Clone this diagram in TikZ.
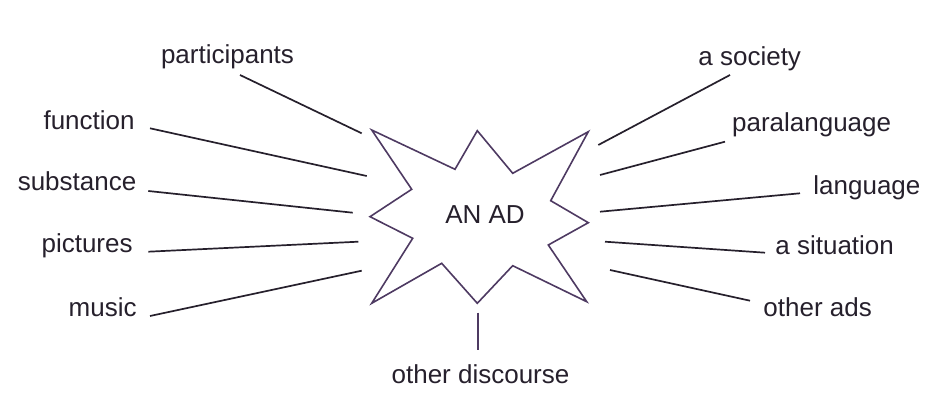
\documentclass[tikz,border=0pt]{standalone}
\usepackage{fontspec}
\setmainfont{Liberation Sans}
\usepackage{tikz}
\usetikzlibrary{calc}

\definecolor{inkcol}{RGB}{38,32,44}
\definecolor{starcol}{RGB}{78,58,98}

\tikzset{
  lbl/.style={inner sep=0pt, text=inkcol, font=\fontsize{13}{15}\selectfont},
  spoke/.style={draw=inkcol, line width=0.85pt},
  starline/.style={draw=starcol, line width=0.8pt, line join=miter}
}

\begin{document}
\begin{tikzpicture}[x=0.5pt,y=-0.5pt]
	\useasboundingbox (0,0) rectangle (930,405);
	
	% the star
	\draw[starline] (371.7,130) -- (455,169.3) -- (477.3,130.7) -- (512.7,173.3)
	  -- (588.3,131.7) -- (550.7,200.7) -- (588.3,222.7) -- (548.3,245)
	  -- (586.7,301.7) -- (512.7,265.7) -- (477.3,303.3) -- (441.7,263.3)
	  -- (371.7,303.3) -- (412.7,238.3) -- (370,216.7) -- (411.7,189.3) -- cycle;
	\node[lbl, anchor=base] (ad) at (485,224) {AN AD};
	
	% left labels
	\node[lbl, anchor=base] (participants) at (227.5,63.3) {participants};
	\node[lbl, anchor=base east] (function) at (135,129.3) {function};
	\node[lbl, anchor=base east] (substance) at (136.7,191) {substance};
	\node[lbl, anchor=base east] (pictures) at (133,252.7) {pictures};
	\node[lbl, anchor=base east] (music) at (137,316) {music};
	
	% right labels
	\node[lbl, anchor=base west] (society) at (698,66) {a society};
	\node[lbl, anchor=base west] (paralanguage) at (731.7,131.7) {paralanguage};
	\node[lbl, anchor=base west] (language) at (813,195) {language};
	\node[lbl, anchor=base west] (situation) at (775,255) {a situation};
	\node[lbl, anchor=base west] (otherads) at (763,316.7) {other ads};
	
	\node[lbl, anchor=base] (discourse) at (480.5,383.3) {other discourse};
	
	% spoke ends
	\coordinate (p1) at (240,75);     \coordinate (p2) at (361.7,133.3);
	\coordinate (f1) at (150,128.3);  \coordinate (f2) at (366.7,176);
	\coordinate (s1) at (148.3,191);  \coordinate (s2) at (352.7,212.7);
	\coordinate (c1) at (148.3,251.7);\coordinate (c2) at (358.3,241.7);
	\coordinate (m1) at (150,316);    \coordinate (m2) at (361.7,270.7);
	\coordinate (y1) at (730,75);     \coordinate (y2) at (598.3,145);
	\coordinate (g1) at (725,141.7);  \coordinate (g2) at (600,175);
	\coordinate (l1) at (800,193.3);  \coordinate (l2) at (600,211.7);
	\coordinate (t1) at (765,252.7);  \coordinate (t2) at (605,241.7);
	\coordinate (o1) at (750,300.7);  \coordinate (o2) at (610,270);
	\coordinate (d1) at (478.3,312.7);\coordinate (d2) at (478.3,350);
	
	\draw[spoke] (p1) -- (p2);
	\draw[spoke] (f1) -- (f2);
	\draw[spoke] (s1) -- (s2);
	\draw[spoke] (c1) -- (c2);
	\draw[spoke] (m1) -- (m2);
	\draw[spoke] (y1) -- (y2);
	\draw[spoke] (g1) -- (g2);
	\draw[spoke] (l1) -- (l2);
	\draw[spoke] (t1) -- (t2);
	\draw[spoke] (o1) -- (o2);
	\draw[spoke, draw=starcol] (d1) -- (d2);
\end{tikzpicture}
\end{document}
